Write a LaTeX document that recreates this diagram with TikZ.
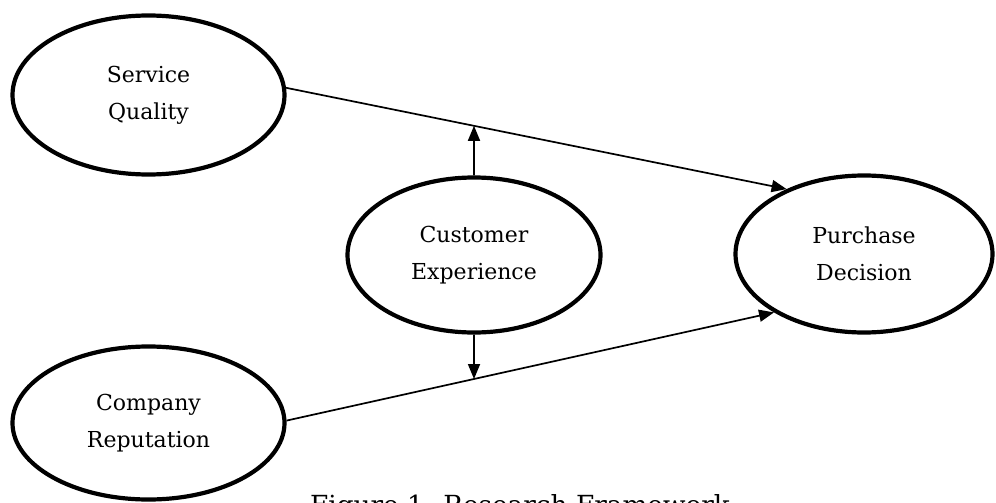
\documentclass[tikz,border=0pt]{standalone}
\usepackage{fontspec}
\setmainfont{DejaVu Serif}
\usetikzlibrary{shapes.geometric,arrows.meta}
\tikzset{
  construct/.style={ellipse, draw, line width=4.2pt, inner sep=0pt, align=center,
    font=\fontsize{22}{37}\selectfont},
  link/.style={line width=1.7pt, -{Triangle[length=15pt,width=12pt]}}
}
\begin{document}
\begin{tikzpicture}[x=1pt,y=-1pt]
\useasboundingbox (0,0) rectangle (996,503);
\node[construct, minimum width=272pt, minimum height=159pt] (SQ) at (148.5,95) {Service\\Quality};
\node[construct, minimum width=272pt, minimum height=153pt] (CR) at (148.5,423) {Company\\Reputation};
\node[construct, minimum width=253pt, minimum height=155pt] (CE) at (474,255) {Customer\\Experience};
\node[construct, minimum width=257pt, minimum height=157pt] (PD) at (864,254) {Purchase\\Decision};
\draw[link] (SQ.3) -- (PD.140);
\draw[link] (CR.1) -- (PD.213);
\coordinate (t1) at (intersection of SQ.3--PD.140 and CE.north--CE.south);
\coordinate (t2) at (intersection of CR.1--PD.213 and CE.north--CE.south);
\draw[link] (CE.north) -- (t1);
\draw[link] (CE.south) -- (t2);
\node[anchor=base, font=\fontsize{26.3}{30}\selectfont] (cap) at (520,514) {Figure 1. Research Framework};
\end{tikzpicture}
\end{document}
